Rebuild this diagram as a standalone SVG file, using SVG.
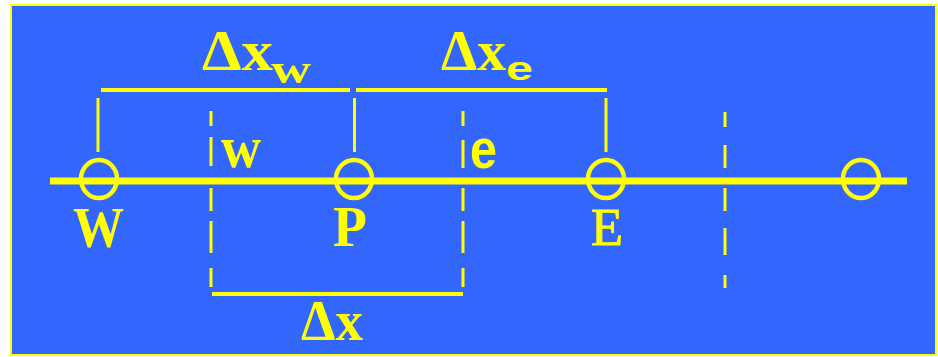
<svg xmlns="http://www.w3.org/2000/svg" width="938" height="357" viewBox="0 0 938 357">
<style>
.ln{stroke:#ffff00;stroke-width:3;fill:none}
.br{stroke:#ffff00;stroke-width:4;fill:none}
.nd{stroke:#ffff00;stroke-width:4.5;fill:none}
.sf{font-family:"Liberation Serif","Times New Roman",serif;font-weight:bold;fill:#ffff00}
.sr{font-family:"Liberation Serif","Times New Roman",serif;fill:#ffff00;stroke:#ffff00;stroke-width:1}
.ss{font-family:"Liberation Sans",Arial,sans-serif;font-weight:bold;fill:#ffff00}
</style>
<rect x="0" y="0" width="938" height="357" fill="#ffffff"/>
<rect x="11" y="5" width="925" height="350" fill="#3366fc" stroke="#ffff00" stroke-width="2"/>
<g id="connectors">
  <line x1="50" y1="181" x2="907" y2="181" stroke="#ffff00" stroke-width="7"/>
  <line class="br" x1="101" y1="90" x2="350" y2="90"/>
  <line class="br" x1="356" y1="90" x2="607" y2="90"/>
  <line class="ln" x1="98" y1="98" x2="98" y2="152"/>
  <line class="ln" x1="354.5" y1="98" x2="354.5" y2="152"/>
  <line class="ln" x1="606" y1="98" x2="606" y2="152"/>
  <line class="br" x1="212" y1="294" x2="463" y2="294"/>
</g>
<g id="node-W">
  <ellipse class="nd" cx="99" cy="179" rx="18" ry="19"/>
  <text class="sf" x="73" y="247" font-size="58" textLength="51" lengthAdjust="spacingAndGlyphs">W</text>
</g>
<g id="node-P">
  <ellipse class="nd" cx="354" cy="179" rx="18" ry="19"/>
  <text class="sf" x="333" y="246" font-size="57" textLength="34" lengthAdjust="spacingAndGlyphs">P</text>
</g>
<g id="node-E">
  <ellipse class="nd" cx="606" cy="179" rx="18" ry="19"/>
  <text class="sr" x="591" y="245" font-size="53" textLength="32" lengthAdjust="spacingAndGlyphs">E</text>
</g>
<g id="node-EE">
  <ellipse class="nd" cx="861" cy="179" rx="18" ry="19"/>
</g>
<g id="face-w">
  <path class="ln" d="M211,111V126M211,137V166M211,188V211M211,221V253M211,268V287"/>
  <text class="sf" x="221" y="167" font-size="60" textLength="40" lengthAdjust="spacingAndGlyphs">w</text>
</g>
<g id="face-e">
  <path class="ln" d="M463,111V126M463,140V168M463,188V211M463,221V253M463,268V287"/>
  <text class="ss" x="470" y="168" font-size="56" textLength="27" lengthAdjust="spacingAndGlyphs">e</text>
</g>
<g id="face-ee">
  <path class="ln" d="M725,112V127M725,145V168M725,188V211M725,228V255M725,275V288"/>
</g>
<g id="label-dxw">
  <text class="sf" x="202" y="70" font-size="56" textLength="71" lengthAdjust="spacingAndGlyphs">Δx</text>
  <text class="sf" x="271" y="83" font-size="42" textLength="40" lengthAdjust="spacingAndGlyphs">w</text>
</g>
<g id="label-dxe">
  <text class="sf" x="441" y="70" font-size="56" textLength="65" lengthAdjust="spacingAndGlyphs">Δx</text>
  <text class="ss" x="506" y="80" font-size="33" textLength="27" lengthAdjust="spacingAndGlyphs">e</text>
</g>
<g id="label-dx">
  <text class="sf" x="301" y="340" font-size="57" textLength="62" lengthAdjust="spacingAndGlyphs">Δx</text>
</g>
</svg>
